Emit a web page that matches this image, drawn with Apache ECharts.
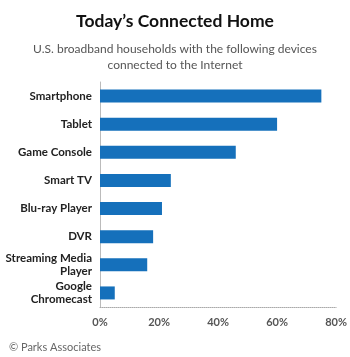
<!DOCTYPE html>
<html>
<head>
<meta charset="utf-8">
<script src="https://cdn.jsdelivr.net/npm/echarts@6/dist/echarts.min.js"></script>
<style>
html,body{margin:0;padding:0;background:#fff;}
#chart-wrapper{width:350px;height:357px;}
</style>
</head>
<body>
<div id="chart-wrapper"></div>
<script>
// top to bottom as in the picture
var devices = ["Smartphone", "Tablet", "Game Console", "Smart TV", "Blu-ray Player", "DVR", "Streaming Media\nPlayer", "Google\nChromecast"];
var shares = [75, 60, 46, 24, 21, 18, 16, 5];
var pctTicks = [0, 20, 40, 60, 80];

var myChart = echarts.init(document.getElementById("chart-wrapper"));

var font = "Lato, 'Open Sans', sans-serif";

var option = {
	animation: false,
	title: [
		{
			text: "Today\u2019s Connected Home",
			left: "center",
			top: 7,
			textStyle: {fontFamily: font, fontSize: 17.5, fontWeight: "bold", color: "#111"}
		},
		{
			text: "U.S. broadband households with the following devices\nconnected to the Internet",
			left: "center",
			top: 36,
			textStyle: {fontFamily: font, fontSize: 12, fontWeight: "normal", color: "#555", lineHeight: 16}
		},
		{
			text: "\u00a9 Parks Associates",
			left: 4,
			top: 337,
			textStyle: {fontFamily: font, fontSize: 11, fontWeight: "normal", color: "#666"}
		}
	],
	grid: {
		left: 100,
		right: 13,
		top: 82,
		bottom: 50,
		containLabel: false
	},
	xAxis: {
		type: "value",
		min: pctTicks[0],
		max: pctTicks[pctTicks.length - 1],
		interval: 20,
		axisLine: {show: true, lineStyle: {color: "#aaa", type: "dotted", width: 1}},
		axisTick: {show: false},
		splitLine: {show: false},
		axisLabel: {
			formatter: "{value}%",
			margin: 10,
			fontFamily: font, fontSize: 11, fontWeight: "bold", color: "#555"
		}
	},
	yAxis: {
		type: "category",
		inverse: true,
		data: devices,
		axisLine: {show: true, lineStyle: {color: "#bbb", width: 1}},
		axisTick: {show: false},
		axisLabel: {
			margin: 8,
			fontFamily: font, fontSize: 11.5, fontWeight: "bold", color: "#222",
			lineHeight: 13, align: "right"
		}
	},
	series: [{
		type: "bar",
		data: shares,
		barWidth: 13,
		itemStyle: {color: "#1570bb"}
	}]
};

myChart.setOption(option);
</script>
</body>
</html>
